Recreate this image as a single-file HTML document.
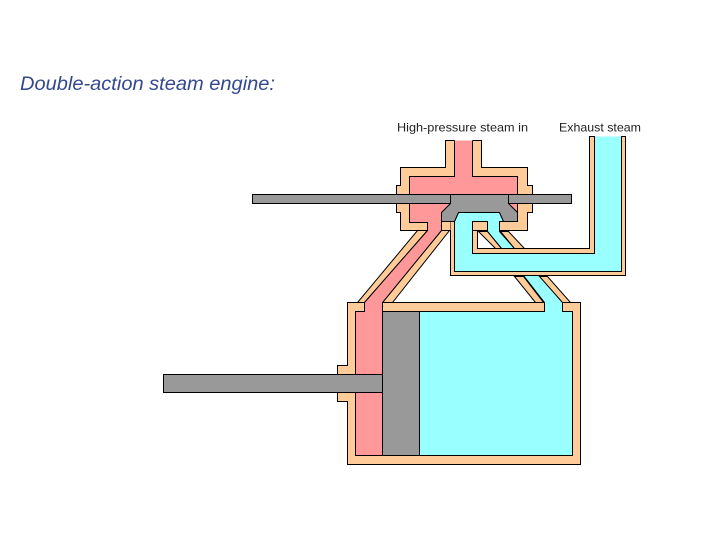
<!DOCTYPE html>
<html>
<head>
<meta charset="utf-8">
<style>
html,body{margin:0;padding:0;background:#fff;}
svg{display:block;}
.t{fill:#ffcc99;stroke:#000;stroke-width:1;}
.p{fill:#ff9999;stroke:#000;stroke-width:1;}
.b{fill:#99ffff;stroke:#000;stroke-width:1;}
.g{fill:#999999;stroke:#000;stroke-width:1;}
</style>
</head>
<body>
<svg width="720" height="540" viewBox="0 0 720 540" xmlns="http://www.w3.org/2000/svg">
<text x="20" y="90" font-family="'Liberation Sans',sans-serif" font-style="italic" font-size="19.5" fill="#33488f" textLength="255" lengthAdjust="spacingAndGlyphs">Double-action steam engine:</text>
<text x="397" y="131.5" font-family="'Liberation Sans',sans-serif" font-size="12" fill="#222" textLength="131" lengthAdjust="spacingAndGlyphs">High-pressure steam in</text>
<text x="559" y="131.5" font-family="'Liberation Sans',sans-serif" font-size="12" fill="#222" textLength="82" lengthAdjust="spacingAndGlyphs">Exhaust steam</text>
<g transform="translate(.5,.5)">
<!-- cylinder -->
<path class="t" d="M347,302 H580 V464 H347 V401 H337 V365 H347 Z"/>
<!-- housing -->
<path class="t" d="M454,140 H445 V167 H400 V185 H396 V212 H400 V230 H527 V212 H532 V185 H527 V167 H481 V140 H472"/>
<!-- left diagonal bands -->
<path class="t" d="M417,230 H427 L364,302 H357 Z"/>
<path class="t" d="M441,230 H449 L392,302 H382 Z"/>
<!-- pink steam -->
<path class="p" d="M472,140 V176 H517 V221 H441 V230 L382,302 V455 H355 V311 H364 V302 L427,230 V222 H409 V176 H454 V140"/>
<!-- blue exhaust -->
<path class="b" d="M621,136 V271 H454 V221 L458,212 H499 L503,221 H499 V231 L514,248 H501 L487,231 V221 H472 V253 H594 V136"/>
<path class="b" d="M523,275 L544,302 V311 H419 V455 H572 V311 H562 V302 L539,275"/>
<!-- exhaust walls -->
<path class="t" d="M589,136 H594 V253 H472 V230 H477 V248 H589 Z"/>
<path class="t" d="M621,136 H625 V275 H450 V221 H454 V271 H621 Z"/>
<rect class="t" x="472" y="221" width="15" height="9"/>
<rect class="t" x="441" y="221" width="9" height="9" style="stroke:none"/>
<path d="M441,221 H454 M441,221 V230 H450" fill="none" stroke="#000"/>
<!-- port bands -->
<path class="t" d="M478,231 H487 L501,248 H495 Z"/>
<path class="t" d="M500,231 H508 L524,248 H514 Z"/>
<path class="t" d="M514,276 H523 L543,302 H535 Z"/>
<path class="t" d="M539,276 H547 L570,302 H562 Z"/>
<!-- rods, valve, piston -->
<rect class="g" x="252" y="194" width="198" height="9"/>
<rect class="g" x="508" y="194" width="63" height="9"/>
<path class="g" d="M450,194 H508 V203 L517,212 V221 H503 L499,212 H458 L454,221 H441 V212 L450,203 Z"/>
<rect class="g" x="382" y="311" width="37" height="144"/>
<rect class="g" x="163" y="374" width="219" height="18"/>
</g>
</svg>
</body>
</html>
